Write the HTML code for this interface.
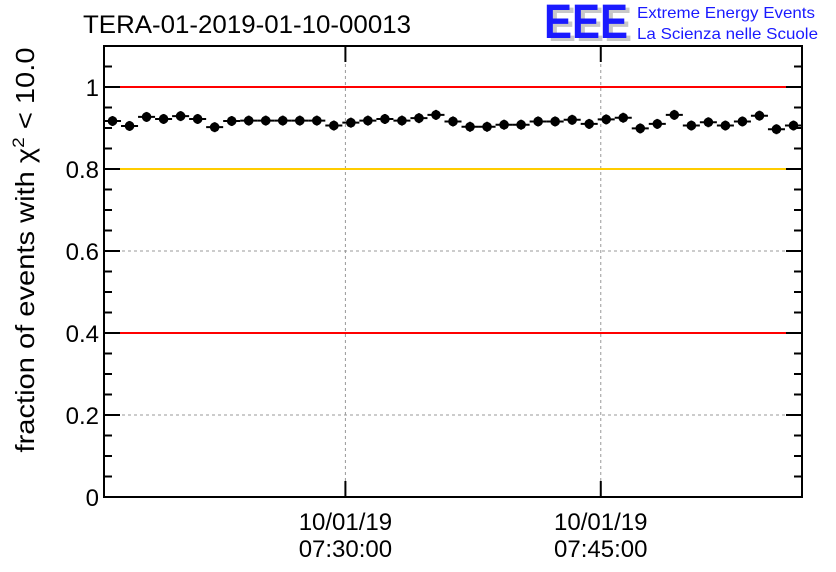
<!DOCTYPE html>
<html><head><meta charset="utf-8"><style>
body{margin:0;background:#fff;}
svg{display:block;font-family:"Liberation Sans",sans-serif;}
</style></head><body>
<svg id="c" width="836" height="572">
<rect width="836" height="572" fill="#fff"/>
<text x="83" y="33" font-size="25" textLength="328" lengthAdjust="spacingAndGlyphs">TERA-01-2019-01-10-00013</text>
<g>
<text x="548" y="41" font-size="48" font-weight="bold" fill="#c8c8c8" textLength="84" lengthAdjust="spacingAndGlyphs">EEE</text>
<text x="544" y="38" font-size="48" font-weight="bold" fill="#1a1aff" textLength="84" lengthAdjust="spacingAndGlyphs">EEE</text>
<text x="637" y="18" font-size="16" fill="#1a1aff" textLength="178" lengthAdjust="spacingAndGlyphs">Extreme Energy Events</text>
<text x="637" y="39" font-size="16" fill="#1a1aff" textLength="181" lengthAdjust="spacingAndGlyphs">La Scienza nelle Scuole</text>
</g>
<g id="grid"></g>
<g id="lines"></g>
<g id="marks"></g>
<g id="axes"></g>
<text transform="translate(34,250) rotate(-90)" text-anchor="middle" font-size="26" textLength="405" lengthAdjust="spacingAndGlyphs">fraction of events with χ<tspan dy="-10" font-size="17">2</tspan><tspan dy="10"> &lt; 10.0</tspan></text>
</svg>
<script>
const values=[0.917,0.905,0.927,0.922,0.929,0.922,0.902,0.917,0.918,0.918,0.918,0.918,0.918,0.906,0.913,0.918,0.922,0.918,0.924,0.932,0.916,0.903,0.903,0.908,0.908,0.916,0.916,0.920,0.910,0.921,0.925,0.899,0.910,0.932,0.906,0.914,0.906,0.916,0.930,0.897,0.906];
const yTicks=[0,0.2,0.4,0.6,0.8,1];
const yTickLabels=["0","0.2","0.4","0.6","0.8","1"];
const timeTicks=[14.18,29.18];
const timeTickLabels=[["10/01/19","07:30:00"],["10/01/19","07:45:00"]];
const refLines=[{v:1,c:"#ff0000"},{v:0.8,c:"#ffcc00"},{v:0.4,c:"#ff0000"}];
const X0=104,X1=802,Y0=497,YT=46,ymax=1.1;
const nb=values.length, bw=(X1-X0)/nb;
const y=v=>Y0-(Y0-YT)*v/ymax;
const x=i=>X0+i*bw;
const NS="http://www.w3.org/2000/svg";
function mk(t,a,p){const e=document.createElementNS(NS,t);for(const k in a)e.setAttribute(k,a[k]);p.appendChild(e);return e;}
const G=document.getElementById('grid'),L=document.getElementById('lines'),M=document.getElementById('marks'),A=document.getElementById('axes');
yTicks.forEach((v,i)=>{
 if(v>0&&v<1){const g=mk('line',{x1:X0,x2:X1,y1:y(v),y2:y(v),stroke:'#999','stroke-dasharray':'3,3'},G);
 
 }
 const t=mk('text',{x:X0-5,y:y(v)+9,'text-anchor':'end','font-size':24},A);t.textContent=yTickLabels[i];
 
 
});
timeTicks.forEach((m,i)=>{
 const xx=x(m);
 const g=mk('line',{x1:xx,x2:xx,y1:YT,y2:Y0,stroke:'#999','stroke-dasharray':'3,3'},G);
 
 
 mk('line',{x1:xx,x2:xx,y1:Y0,y2:Y0-16,stroke:'#000','stroke-width':2},A);
 mk('line',{x1:xx,x2:xx,y1:YT,y2:YT+16,stroke:'#000','stroke-width':2},A);
 timeTickLabels[i].forEach((s,j)=>{const t=mk('text',{x:xx,y:Y0+33+j*27,'text-anchor':'middle','font-size':24},A);t.textContent=s;
 
 });
});
refLines.forEach(r=>{const l=mk('line',{x1:X0,x2:X1,y1:y(r.v),y2:y(r.v),stroke:r.c,'stroke-width':2},L);
 
 });
values.forEach((v,i)=>{
 const cx=x(i+0.5),cy=y(v);
 const g=mk('g',{},M);
 
 
 mk('line',{x1:x(i),x2:x(i+1),y1:cy,y2:cy,stroke:'#000','stroke-width':2},g);
 mk('line',{x1:cx,x2:cx,y1:cy-5,y2:cy+5,stroke:'#000','stroke-width':2},g);
 mk('circle',{cx:cx,cy:cy,r:4.8,fill:'#000'},g);
});
for(let k=0;k<=22;k++){const v=k*0.05;const major=k%4===0;const len=major?16:8;
 mk('line',{x1:X0,x2:X0+len,y1:y(v),y2:y(v),stroke:'#000','stroke-width':2},A);
 mk('line',{x1:X1,x2:X1-len,y1:y(v),y2:y(v),stroke:'#000','stroke-width':2},A);}
const f=mk('rect',{x:X0,y:YT,width:X1-X0,height:Y0-YT,fill:'none',stroke:'#000','stroke-width':2},A);


</script>
</body></html>
